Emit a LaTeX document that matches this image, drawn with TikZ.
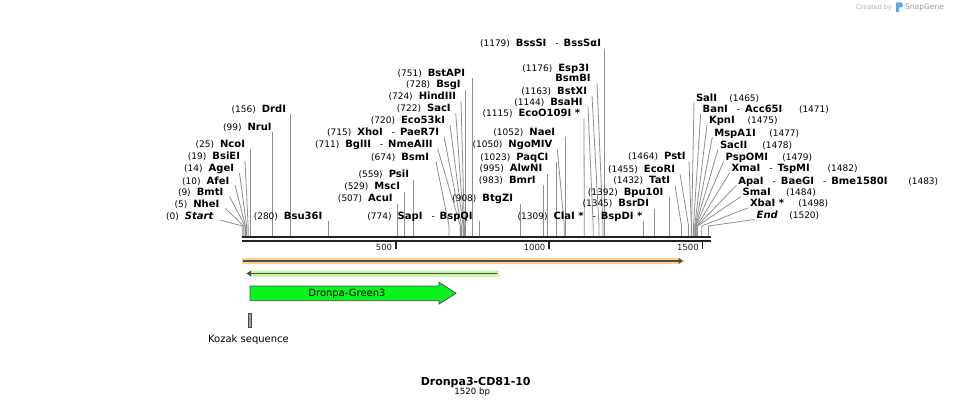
\documentclass[tikz,border=0pt]{standalone}
\usepackage{fontspec}
\setmainfont{DejaVu Sans}
\usetikzlibrary{arrows.meta}
\definecolor{connc}{HTML}{8F8F8F}
\definecolor{barc}{HTML}{222222}
\definecolor{orangeH}{HTML}{FFD08A}
\definecolor{greenH}{HTML}{C8F5A0}
\definecolor{featline}{HTML}{4D4D4D}
\definecolor{cdsgreen}{HTML}{0AF51E}
\definecolor{kozakc}{HTML}{A0A0A0}
\definecolor{sgblue}{HTML}{5AA9E6}
\definecolor{sggray}{HTML}{B0B0B0}
\newcommand\nb[1]{{\mdseries\fontsize{9}{10}\selectfont(#1)}}
\newcommand\lt[2]{\nb{#1}\hspace{6pt}{\bfseries #2}}
\newcommand\dsep{\hspace{9pt}{\mdseries\fontsize{9}{10}\selectfont-}\hspace{5pt}}
\newcommand\sx[1]{242.3+0.3067*#1}
\newcommand\enzV[6]{%
  \node[lbl,anchor=base east] (n#1) at (#3,#4+3.6) {#5};
  \coordinate (t#1) at ({\sx{#2}},#6);
  \coordinate (s#1) at ({\sx{#2}},236);
  \draw[cl] (t#1) -- (s#1);}
\newcommand\enzD[7]{%
  \node[lbl,anchor=base east] (n#1) at (#3,#4+3.6) {#5};
  \coordinate (e#1) at (#6,#7);
  \coordinate (k#1) at ({\sx{#2}},226);
  \coordinate (s#1) at ({\sx{#2}},236);
  \draw[cl] (e#1) -- (k#1) -- (s#1);}
\newcommand\enzR[6]{%
  \node[lbl,anchor=base west] (n#1) at (#3,#4+3.6) {\bfseries #5};
  \node[lbl,anchor=base west] (m#1) at (#6,#4+3.6) {\nb{#2}};
  \coordinate (e#1) at (#3-2,#4+4.5);
  \coordinate (k#1) at ({\sx{#2}},226);
  \coordinate (s#1) at ({\sx{#2}},236);
  \draw[cl] (e#1) -- (k#1) -- (s#1);}
\tikzset{
  lbl/.style={inner sep=0pt, outer sep=0pt, text=black, font=\fontsize{10}{12}\selectfont},
  cl/.style={connc, line width=0.8pt},
  tickl/.style={inner sep=0pt, font=\fontsize{8.5}{10}\selectfont, text=barc},
}
\begin{document}
\begin{tikzpicture}[x=1pt,y=-1pt]
\useasboundingbox (0,0) rectangle (953,409);
\fill[white] (0,0) rectangle (953,409);

% watermark
\node[inner sep=0pt, anchor=base west, text=sggray, font=\fontsize{6.5}{8}\selectfont] (wm1) at (856,9.5) {Created by};
\fill[sgblue] (896,2.5) -- (901,2.5) .. controls (903.5,2.5) and (903.5,7.5) .. (901,7.5) -- (899,7.5) -- (899,12) -- (896,12) -- cycle;
\node[inner sep=0pt, anchor=base west, text=sggray!90!black, font=\fontsize{7.5}{9}\selectfont] (wm2) at (905,10) {SnapGene};

% connectors and labels: left group
\enzD{Start}{0}{213.3}{216}{\lt{0}{\itshape Start}}{220}{220}
\enzD{NheI}{5}{219.3}{204}{\lt{5}{NheI}}{225.5}{208.5}
\enzD{BmtI}{9}{223.3}{192.3}{\lt{9}{BmtI}}{229.5}{196.5}
\enzD{AfeI}{10}{229.3}{180.7}{\lt{10}{AfeI}}{235}{185}
\enzD{AgeI}{14}{234}{168.3}{\lt{14}{AgeI}}{239.5}{173}
\enzD{BsiEI}{19}{240}{156.3}{\lt{19}{BsiEI}}{245}{161}
\enzV{NcoI}{25}{245}{144.3}{\lt{25}{NcoI}}{149.5}
\enzV{NruI}{99}{271.7}{127.3}{\lt{99}{NruI}}{132}
\enzV{DrdI}{156}{286}{109.3}{\lt{156}{DrdI}}{114}
\enzV{Bsu36I}{280}{322.3}{216}{\lt{280}{Bsu36I}}{221}

% center group
\enzV{BstAPI}{751}{465}{72.7}{\lt{751}{BstAPI}}{78}
\enzV{BsgI}{728}{460.7}{84}{\lt{728}{BsgI}}{90}
\enzD{HindIII}{724}{456}{96}{\lt{724}{HindIII}}{461}{101}
\enzD{SacI}{722}{450.7}{108}{\lt{722}{SacI}}{455.7}{113}
\enzD{Eco53kI}{720}{445}{120}{\lt{720}{Eco53kI}}{450}{125}
\enzD{XhoI}{715}{439}{131.7}{\lt{715}{XhoI\dsep PaeR7I}}{444}{136.7}
\enzD{BglII}{711}{432.7}{144}{\lt{711}{BglII\dsep NmeAIII}}{437.7}{149}
\enzD{BsmI}{674}{429}{156.7}{\lt{674}{BsmI}}{436}{161.7}
\enzV{PsiI}{559}{409}{174}{\lt{559}{PsiI}}{180}
\enzV{MscI}{529}{400}{185.7}{\lt{529}{MscI}}{192}
\enzV{AcuI}{507}{392.7}{198}{\lt{507}{AcuI}}{204}
\enzV{SapI}{774}{472.7}{215.7}{\lt{774}{SapI\dsep BspQI}}{221}
\enzV{BtgZI}{908}{513}{197.7}{\lt{908}{BtgZI}}{204}
\enzV{BssSI}{1179}{601}{43.3}{\lt{1179}{BssSI\dsep BssSαI}}{49}
\node[lbl,anchor=base east] (nEsp3I) at (589,67.7+3.6) {\lt{1176}{Esp3I}};
\enzD{BsmBI}{1176}{590.7}{78.3}{\bfseries BsmBI}{597}{83}
\enzD{BstXI}{1163}{587}{90.7}{\lt{1163}{BstXI}}{592}{95.7}
\enzD{BsaHI}{1144}{582.7}{101.7}{\lt{1144}{BsaHI}}{588}{106.7}
\enzD{EcoOI}{1115}{580}{113.3}{\lt{1115}{EcoO109I *}}{584}{118.3}
\enzV{NaeI}{1052}{555}{131.7}{\lt{1052}{NaeI}}{137}
\enzD{NgoMIV}{1050}{552.3}{144.3}{\lt{1050}{NgoMIV}}{557.3}{149.3}
\enzV{PaqCI}{1023}{548.3}{156.7}{\lt{1023}{PaqCI}}{162}
\enzV{AlwNI}{995}{542.3}{167.7}{\lt{995}{AlwNI}}{174}
\enzV{BmrI}{983}{535.7}{180}{\lt{983}{BmrI}}{185}
\enzV{ClaI}{1309}{642.3}{216.2}{\lt{1309}{ClaI *\dsep BspDI *}}{221}
\enzV{BsrDI}{1345}{649}{203.3}{\lt{1345}{BsrDI}}{209}
\enzV{BpuI}{1392}{663.3}{192.3}{\lt{1392}{Bpu10I}}{197}
\enzD{TatI}{1432}{670}{180}{\lt{1432}{TatI}}{675}{185}
\enzD{EcoRI}{1455}{675}{169}{\lt{1455}{EcoRI}}{680}{174}
\enzD{PstI}{1464}{685.7}{156}{\lt{1464}{PstI}}{689}{161}

% right group
\enzR{SalI}{1465}{696}{97.7}{SalI}{729.3}
\enzR{BanI}{1471}{702.7}{109}{BanI\dsep Acc65I}{799}
\enzR{KpnI}{1475}{709}{120}{KpnI}{747.7}
\enzR{MspAI}{1477}{714.3}{132.7}{MspA1I}{769.3}
\enzR{SacII}{1478}{720}{145}{SacII}{762.3}
\enzR{PspOMI}{1479}{725.7}{156.7}{PspOMI}{782.3}
\enzR{XmaI}{1482}{731.7}{168.3}{XmaI\dsep TspMI}{827.7}
\enzR{ApaI}{1483}{738.3}{181}{ApaI\dsep BaeGI\dsep Bme1580I}{908.3}
\enzR{SmaI}{1484}{742.7}{192.3}{SmaI}{786}
\enzR{XbaI}{1498}{750}{203.3}{XbaI *}{798.3}
\enzR{End}{1520}{756.7}{215}{\itshape End}{789.3}

% sequence bar
\coordinate (b0) at (241.8,0);
\coordinate (b1) at (710.5,0);
\draw[barc, line width=2.3pt] (241.8,236.8) -- (710.5,236.8);
\draw[barc, line width=2.3pt] (241.8,241.3) -- (710.5,241.3);
\foreach \v/\xx in {500/395.7,1000/549.0,1500/702.3}{
  \draw[barc, line width=1.6pt] (\xx,241) -- (\xx,248.5);
  \node[tickl, anchor=base east] (tk\v) at (\xx-3.4,250.8) {\v};
}

% orange feature
\fill[orangeH] (242,258) -- (679,258) -- (685.5,261) -- (679,264) -- (242,264) -- cycle;
\draw[featline, line width=1.5pt, -{Triangle[length=4.5pt,width=5.5pt]}] (242.5,261) -- (683,261);

% light green feature
\fill[greenH] (499,270.5) -- (252,270.5) -- (245.5,273.5) -- (252,276.5) -- (499,276.5) -- cycle;
\draw[featline, line width=1.5pt, -{Triangle[length=4.5pt,width=5.5pt]}] (497,273.5) -- (246.5,273.5);

% CDS arrow
\draw[featline, fill=cdsgreen, line width=0.8pt] (250,286) -- (439,286) -- (439,282.3) -- (456,293.3) -- (439,304) -- (439,300.7) -- (250,300.7) -- cycle;
\node[inner sep=0pt, anchor=base, font=\fontsize{10}{12}\selectfont] (cds) at (347,296) {Dronpa-Green3};

% Kozak
\draw[featline, fill=kozakc, line width=0.6pt] (248.4,313.3) rectangle (251.3,327.2);
\node[inner sep=0pt, anchor=base, font=\fontsize{10}{12}\selectfont] (koz) at (248.5,342.8) {Kozak sequence};

% title
\node[inner sep=0pt, anchor=base, font=\bfseries\fontsize{11}{13}\selectfont] (title) at (475.7,385.2) {Dronpa3-CD81-10};
\node[inner sep=0pt, anchor=base, font=\fontsize{8.6}{10}\selectfont] (len) at (472.2,394.5) {1520 bp};
\end{tikzpicture}
\end{document}
